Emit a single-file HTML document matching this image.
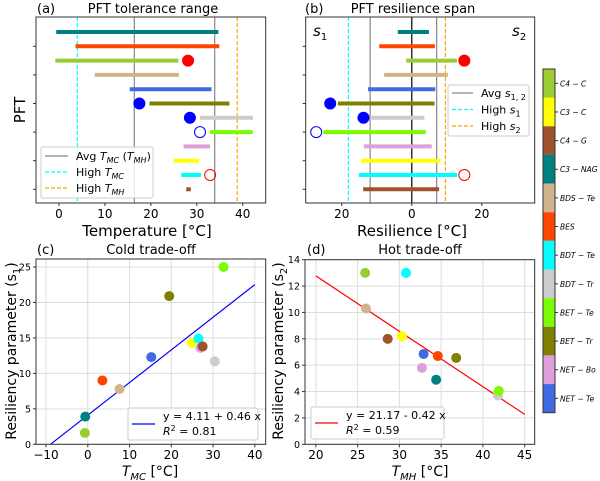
<!DOCTYPE html>
<html><head><meta charset="utf-8"><style>
body{margin:0;background:#fff;}
svg{display:block;font-family:"DejaVu Sans","Liberation Sans",sans-serif;}
</style></head><body>
<svg id="s" width="600" height="481" viewBox="0 0 600 481" xmlns="http://www.w3.org/2000/svg"></svg>
<script>
// ---------- data ----------
const pftNames = ["C3-NAG","BES","C4-C","BDS-Te","NET-Te","BET-Tr","BDT-Tr","BET-Te","NET-Bo","C3-C","BDT-Te","C4-G"];
const pftColors = ["#008080","#ff4500","#9acd32","#d2b48c","#4169e1","#808000","#cccccc","#7cfc00","#dda0dd","#ffff00","#00ffff","#a0522d"];
const tolLow  = [-0.6,3.6,-0.8,7.8,15.4,19.7,30.7,32.9,27.1,25.0,26.6,27.7];
const tolHigh = [34.7,34.9,26.0,26.1,33.2,37.1,42.2,42.2,32.9,30.5,30.9,28.7];
const resS1 = [4.0,9.3,1.6,7.9,12.5,21.1,11.9,25.3,13.7,14.5,15.1,13.9];
const resS2 = [4.9,6.6,12.9,10.3,6.7,6.5,3.6,4.0,5.7,8.2,12.9,7.8];
const tolMarkRow=[2,5,6,7,10], tolMarkVal=[28.1,17.5,28.5,30.7,32.9], tolMarkFill=[1,1,1,0,0], tolMarkCol=["red","blue","blue","blue","red"];
const resMarkRow=[2,5,6,7,10], resMarkVal=[15.0,-23.3,-13.8,-27.3,15.0], resMarkFill=[1,1,1,0,0], resMarkCol=["red","blue","blue","blue","red"];
const tAvg=[16.4,33.9], tHighMC=4.0, tHighMH=38.8;
const rAvg=[-11.9,7.1], rHighS1=-18.1, rHighS2=9.6;
const tmc = [-0.6,3.5,-0.7,7.6,15.2,19.5,30.4,32.5,27.0,24.9,26.5,27.5];
const s1v = [3.9,9.0,1.6,7.8,12.3,20.9,11.7,25.0,13.6,14.3,14.9,13.8];
const tmh = [34.4,34.6,25.9,26.0,32.9,36.8,41.8,41.9,32.7,30.3,30.8,28.6];
const s2v = [4.9,6.7,13.0,10.3,6.85,6.55,3.7,4.05,5.8,8.2,13.0,8.0];
const fitC=[4.11,0.46], fitD=[21.17,-0.42];
const xTicksA=[0,10,20,30,40], xTicksB=[-20,0,20], xTicksC=[-10,0,10,20,30,40], yTicksC=[0,5,10,15,20,25];
const xTicksD=[20,25,30,35,40,45], yTicksD=[0,2,4,6,8,10,12,14];
const cbOrder=["C4-C","C3-C","C4-G","C3-NAG","BDS-Te","BES","BDT-Te","BDT-Tr","BET-Te","BET-Tr","NET-Bo","NET-Te"];

const S=document.getElementById('s');
const NS="http://www.w3.org/2000/svg";
function el(tag,attrs,parent,text){const e=document.createElementNS(NS,tag);for(const k in attrs)e.setAttribute(k,attrs[k]);if(text!==undefined)e.textContent=text;(parent||S).appendChild(e);return e;}
function lin(d0,d1,r0,r1){return v=>r0+(v-d0)*(r1-r0)/(d1-d0);}
function colOf(n){return pftColors[pftNames.indexOf(n)];}

// ---------- panel a ----------
const ga=el('g',{});
const xa=lin(-5,45,36,265.7);
const rowY=i=>32+i*14.3;
el('line',{x1:xa(tHighMC),x2:xa(tHighMC),y1:17,y2:203,stroke:"#00ffff","stroke-dasharray":"4,2","stroke-width":1.2},ga);
el('line',{x1:xa(tHighMH),x2:xa(tHighMH),y1:17,y2:203,stroke:"#ffa500","stroke-dasharray":"4,2","stroke-width":1.2},ga);
tAvg.forEach(v=>el('line',{x1:xa(v),x2:xa(v),y1:17,y2:203,stroke:"#888","stroke-width":1.2},ga));
pftNames.forEach((n,i)=>{const b=el('line',{x1:xa(tolLow[i]),x2:xa(tolHigh[i]),y1:rowY(i),y2:rowY(i),stroke:pftColors[i],"stroke-width":4},ga);
});
tolMarkRow.forEach((r,k)=>{const c=el('circle',{cx:xa(tolMarkVal[k]),cy:rowY(r),r:5.5,fill:tolMarkFill[k]?tolMarkCol[k]:"none",stroke:tolMarkCol[k],"stroke-width":1},ga);
});
el('rect',{x:36,y:17,width:229.7,height:186,fill:"none",stroke:"#333","stroke-width":1},ga);
xTicksA.forEach(t=>{el('line',{x1:xa(t),x2:xa(t),y1:203,y2:206,stroke:"#333"},ga);el('text',{x:xa(t),y:218,"font-size":12,"text-anchor":"middle"},ga,t);});
for(let i=1;i<12;i+=2)el('line',{x1:33,x2:36,y1:rowY(i),y2:rowY(i),stroke:"#333"},ga);
el('text',{x:147,y:236,"font-size":15,"text-anchor":"middle"},ga,"Temperature [°C]");
el('text',{x:0,y:0,"font-size":15,"text-anchor":"middle",transform:"translate(25,110) rotate(-90)"},ga,"PFT");
el('text',{x:37,y:13,"font-size":13},ga,"(a)");
el('text',{x:153,y:13,"font-size":13,"text-anchor":"middle"},ga,"PFT tolerance range");
const lga=el('g',{},ga);
el('rect',{x:41,y:147,width:112,height:51,fill:"#fff","fill-opacity":0.85,stroke:"#ccc",rx:2},lga);
el('line',{x1:45,x2:68,y1:156,y2:156,stroke:"#888","stroke-width":1.3},lga);
el('line',{x1:45,x2:68,y1:172,y2:172,stroke:"#00ffff","stroke-dasharray":"4,2","stroke-width":1.3},lga);
el('line',{x1:45,x2:68,y1:188,y2:188,stroke:"#ffa500","stroke-dasharray":"4,2","stroke-width":1.3},lga);
const t1=el('text',{x:76,y:160,"font-size":11},lga);t1.innerHTML='Avg <tspan font-style="italic">T</tspan><tspan font-style="italic" font-size="8" dy="3">MC</tspan><tspan dy="-3"> (</tspan><tspan font-style="italic">T</tspan><tspan font-style="italic" font-size="8" dy="3">MH</tspan><tspan dy="-3">)</tspan>';
const t2=el('text',{x:76,y:176,"font-size":11},lga);t2.innerHTML='High <tspan font-style="italic">T</tspan><tspan font-style="italic" font-size="8" dy="3">MC</tspan>';
const t3=el('text',{x:76,y:192,"font-size":11},lga);t3.innerHTML='High <tspan font-style="italic">T</tspan><tspan font-style="italic" font-size="8" dy="3">MH</tspan>';

// ---------- panel b ----------
const gb=el('g',{});
const xb=lin(-30.3,35.1,305.7,534.7);
el('line',{x1:xb(rHighS1),x2:xb(rHighS1),y1:17,y2:203,stroke:"#00ffff","stroke-dasharray":"4,2","stroke-width":1.2},gb);
el('line',{x1:xb(rHighS2),x2:xb(rHighS2),y1:17,y2:203,stroke:"#ffa500","stroke-dasharray":"4,2","stroke-width":1.2},gb);
rAvg.forEach(v=>el('line',{x1:xb(v),x2:xb(v),y1:17,y2:203,stroke:"#888","stroke-width":1.2},gb));
el('line',{x1:xb(0),x2:xb(0),y1:17,y2:203,stroke:"#000","stroke-width":1.2},gb);
pftNames.forEach((n,i)=>{const b=el('line',{x1:xb(-resS1[i]),x2:xb(resS2[i]),y1:rowY(i),y2:rowY(i),stroke:pftColors[i],"stroke-width":4},gb);
});
resMarkRow.forEach((r,k)=>{const c=el('circle',{cx:xb(resMarkVal[k]),cy:rowY(r),r:5.5,fill:resMarkFill[k]?resMarkCol[k]:"none",stroke:resMarkCol[k],"stroke-width":1},gb);
});
el('rect',{x:305.7,y:17,width:229,height:186,fill:"none",stroke:"#333"},gb);
xTicksB.forEach(t=>{el('line',{x1:xb(t),x2:xb(t),y1:203,y2:206,stroke:"#333"},gb);el('text',{x:xb(t),y:218,"font-size":12,"text-anchor":"middle"},gb,Math.abs(t));});
for(let i=1;i<12;i+=2)el('line',{x1:302.7,x2:305.7,y1:rowY(i),y2:rowY(i),stroke:"#333"},gb);
el('text',{x:412,y:236,"font-size":15,"text-anchor":"middle"},gb,"Resilience [°C]");
el('text',{x:305,y:13,"font-size":13},gb,"(b)");
el('text',{x:413,y:13,"font-size":13,"text-anchor":"middle"},gb,"PFT resilience span");
const s1l=el('text',{x:313,y:36,"font-size":15,"font-style":"italic"},gb);s1l.innerHTML='s<tspan font-size="10" dy="4" font-style="normal">1</tspan>';
const s2l=el('text',{x:512,y:36,"font-size":15,"font-style":"italic"},gb);s2l.innerHTML='s<tspan font-size="10" dy="4" font-style="normal">2</tspan>';
const lgb=el('g',{},gb);
el('rect',{x:448,y:85,width:81,height:51,fill:"#fff","fill-opacity":0.85,stroke:"#ccc",rx:2},lgb);
el('line',{x1:452,x2:473,y1:93,y2:93,stroke:"#888","stroke-width":1.3},lgb);
el('line',{x1:452,x2:473,y1:109.5,y2:109.5,stroke:"#00ffff","stroke-dasharray":"4,2","stroke-width":1.3},lgb);
el('line',{x1:452,x2:473,y1:126,y2:126,stroke:"#ffa500","stroke-dasharray":"4,2","stroke-width":1.3},lgb);
const b1=el('text',{x:481,y:97,"font-size":11},lgb);b1.innerHTML='Avg <tspan font-style="italic">s</tspan><tspan font-size="8" dy="3">1, 2</tspan>';
const b2=el('text',{x:481,y:113.5,"font-size":11},lgb);b2.innerHTML='High <tspan font-style="italic">s</tspan><tspan font-size="8" dy="3">1</tspan>';
const b3=el('text',{x:481,y:130,"font-size":11},lgb);b3.innerHTML='High <tspan font-style="italic">s</tspan><tspan font-size="8" dy="3">2</tspan>';

// ---------- panel c ----------
const gc=el('g',{});
const xc=lin(-12.4,42.6,36,265.7), yc=lin(0,25,444.3,267);
xTicksC.forEach(t=>{el('line',{x1:xc(t),x2:xc(t),y1:259,y2:444.3,stroke:"#ddd"},gc);el('line',{x1:xc(t),x2:xc(t),y1:444.3,y2:447.3,stroke:"#333"},gc);el('text',{x:xc(t),y:459,"font-size":12,"text-anchor":"middle"},gc,t<0?"\u2212"+(-t):t);});
yTicksC.forEach(t=>{el('line',{x1:36,x2:265.7,y1:yc(t),y2:yc(t),stroke:"#ddd"},gc);el('line',{x1:33,x2:36,y1:yc(t),y2:yc(t),stroke:"#333"},gc);el('text',{x:31,y:yc(t)+3.5,"font-size":9.5,"text-anchor":"end"},gc,t);});
el('line',{x1:xc(-(fitC[0]/fitC[1])),y1:yc(0),x2:xc(40),y2:yc(fitC[0]+fitC[1]*40),stroke:"#0000ff","stroke-width":1.2},gc);
tmc.forEach((v,i)=>{const c=el('circle',{cx:xc(v),cy:yc(s1v[i]),r:5,fill:pftColors[i]},gc);});
el('rect',{x:36,y:259,width:229.7,height:185.3,fill:"none",stroke:"#333"},gc);
el('text',{x:37,y:254,"font-size":13},gc,"(c)");
el('text',{x:151,y:254,"font-size":13,"text-anchor":"middle"},gc,"Cold trade-off");
const cx1=el('text',{x:150,y:476,"font-size":14,"text-anchor":"middle"},gc);cx1.innerHTML='<tspan font-style="italic">T</tspan><tspan font-style="italic" font-size="10" dy="4">MC</tspan><tspan dy="-4"> [°C]</tspan>';
const cy1=el('text',{x:0,y:0,"font-size":14,"text-anchor":"middle",transform:"translate(16,351) rotate(-90)"},gc);cy1.innerHTML='Resiliency parameter (s<tspan font-size="10" dy="4">1</tspan><tspan dy="-4">)</tspan>';
const lgc=el('g',{},gc);
el('rect',{x:128,y:408,width:130,height:32,fill:"#fff","fill-opacity":0.85,stroke:"#ccc",rx:2},lgc);
el('line',{x1:132,x2:155,y1:424,y2:424,stroke:"#0000ff","stroke-width":1.3},lgc);
el('text',{x:163,y:420,"font-size":11},lgc,"y = 4.11 + 0.46 x");
const rc=el('text',{x:163,y:435,"font-size":11},lgc);rc.innerHTML='<tspan font-style="italic">R</tspan><tspan font-size="8" dy="-4">2</tspan><tspan dy="4"> = 0.81</tspan>';

// ---------- panel d ----------
const gd=el('g',{});
const xd=lin(18.7,46.2,305,534.7), yd=lin(0,14,444.3,259.7);
xTicksD.forEach(t=>{el('line',{x1:xd(t),x2:xd(t),y1:259.7,y2:444.3,stroke:"#ddd"},gd);el('line',{x1:xd(t),x2:xd(t),y1:444.3,y2:447.3,stroke:"#333"},gd);el('text',{x:xd(t),y:459,"font-size":12,"text-anchor":"middle"},gd,t);});
yTicksD.forEach(t=>{el('line',{x1:305,x2:534.7,y1:yd(t),y2:yd(t),stroke:"#ddd"},gd);el('line',{x1:302,x2:305,y1:yd(t),y2:yd(t),stroke:"#333"},gd);el('text',{x:300,y:yd(t)+3.5,"font-size":9.5,"text-anchor":"end"},gd,t);});
el('line',{x1:xd(20),y1:yd(fitD[0]+fitD[1]*20),x2:xd(45),y2:yd(fitD[0]+fitD[1]*45),stroke:"#ff0000","stroke-width":1.2},gd);
tmh.forEach((v,i)=>{const c=el('circle',{cx:xd(v),cy:yd(s2v[i]),r:5,fill:pftColors[i]},gd);});
el('rect',{x:305,y:259.7,width:229.7,height:184.6,fill:"none",stroke:"#333"},gd);
el('text',{x:307,y:254,"font-size":13},gd,"(d)");
el('text',{x:420,y:254,"font-size":13,"text-anchor":"middle"},gd,"Hot trade-off");
const dx1=el('text',{x:420,y:476,"font-size":14,"text-anchor":"middle"},gd);dx1.innerHTML='<tspan font-style="italic">T</tspan><tspan font-style="italic" font-size="10" dy="4">MH</tspan><tspan dy="-4"> [°C]</tspan>';
const dy1=el('text',{x:0,y:0,"font-size":14,"text-anchor":"middle",transform:"translate(283,351) rotate(-90)"},gd);dy1.innerHTML='Resiliency parameter (s<tspan font-size="10" dy="4">2</tspan><tspan dy="-4">)</tspan>';
const lgd=el('g',{},gd);
el('rect',{x:311,y:407,width:133,height:32,fill:"#fff","fill-opacity":0.85,stroke:"#ccc",rx:2},lgd);
el('line',{x1:315,x2:338,y1:423,y2:423,stroke:"#ff0000","stroke-width":1.3},lgd);
el('text',{x:346,y:419,"font-size":11},lgd,"y = 21.17 - 0.42 x");
const rd=el('text',{x:346,y:434,"font-size":11},lgd);rd.innerHTML='<tspan font-style="italic">R</tspan><tspan font-size="8" dy="-4">2</tspan><tspan dy="4"> = 0.59</tspan>';

// ---------- colorbar ----------
const gcb=el('g',{});
const segH=(412.7-69)/cbOrder.length;
cbOrder.forEach((n,i)=>{const y=69+i*segH;
const r=el('rect',{x:543,y:y,width:12,height:segH,fill:colOf(n)},gcb);
el('line',{x1:555,x2:558,y1:y+segH/2,y2:y+segH/2,stroke:"#333"},gcb);
el('text',{x:560,y:y+segH/2+3,"font-size":7.5,"font-style":"italic"},gcb,n.replace('-',' \u2212 '));});
el('rect',{x:543,y:69,width:12,height:343.7,fill:"none",stroke:"#333"},gcb);
</script>
</body></html>
